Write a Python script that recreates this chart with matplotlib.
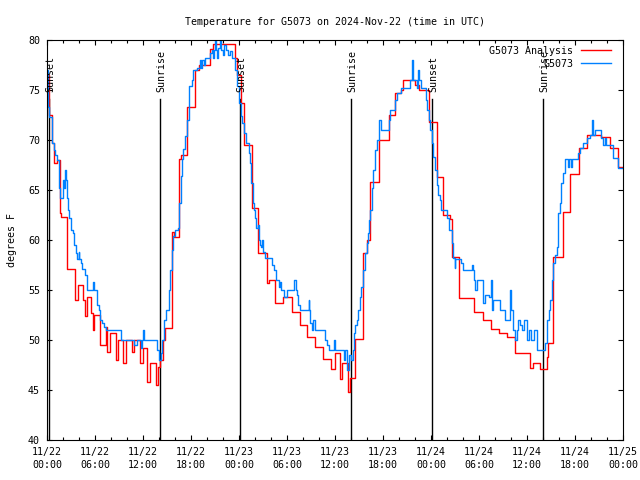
import matplotlib
matplotlib.use("Agg")
import matplotlib.pyplot as plt
from matplotlib.lines import Line2D

"""
Temperature for G5073, 3 days from 2024-11-22 00:00 UTC.
x values are hours since 11/22 00:00, drawn as gnuplot-style steps.
"""

# analysis (red)
hrs_anl = [0, 0.3, 0.67, 0.9, 1.2, 1.6, 1.8, 2.46, 3.54, 3.875, 4.54, 4.7, 4.96,
           5.54, 5.7, 5.9, 6.58, 7.33, 7.54, 7.83, 8.58, 8.875, 9.54, 9.83, 10.67,
           10.9, 11.625, 12.0, 12.54, 12.875, 13.625, 13.875, 14.1, 14.5, 14.8,
           15.58, 15.9, 16.5, 16.8, 17.5, 18.5, 19.0, 20.4, 20.8, 23.5, 23.7, 24.3,
           24.6, 25.65, 26.4, 27.5, 27.7, 28.5, 29.5, 30.6, 31.6, 32.5, 33.5, 34.5,
           35.5, 36.0, 36.6, 36.9, 37.6, 37.9, 38.5, 39.45, 40.0, 40.4, 41.5, 42.7,
           43.5, 44.3, 44.5, 46.0, 46.5, 47.8, 48.7, 49.5, 50.4, 50.6, 51.5, 53.4,
           54.5, 55.5, 56.5, 57.5, 58.5, 60.4, 60.8, 61.6, 62.5, 62.6, 63.3, 64.45,
           65.4, 66.5, 67.5, 69.3, 70.4, 71.4, 72.0]
temp_anl = [76.5, 72.5, 69.7, 67.7, 68.0, 62.7, 62.3, 57.1, 54.0, 55.5, 54.0, 52.4, 54.3,
            52.7, 51.0, 52.5, 49.5, 51.3, 48.8, 50.7, 48.0, 50.0, 47.7, 50.0, 48.8,
            50.0, 47.7, 49.2, 45.8, 47.7, 45.5, 47.3, 48.0, 50.0, 51.2,
            60.8, 60.3, 68.1, 68.5, 73.3, 77.0, 77.5, 79.1, 79.6, 78.2, 76.5, 73.7,
            69.5, 63.2, 58.7, 55.7, 56.0, 53.7, 54.3, 52.8, 51.5, 50.3, 49.3, 48.1,
            47.1, 48.7, 46.1, 47.7, 44.8, 46.2, 50.1, 58.7, 60.0, 65.8, 70.0, 72.5,
            74.7, 75.0, 76.0, 75.5, 75.0, 71.8, 66.3, 62.5, 62.1, 58.3, 54.2, 52.8,
            52.0, 51.1, 50.7, 50.3, 48.7, 47.2, 47.7, 47.1, 48.3, 49.7, 58.3, 62.8,
            66.6, 69.2, 70.5, 70.3, 69.2, 67.3, 67.3]

# observed (blue)
hrs_obs = [0, 0.1, 0.3, 0.6, 0.875, 1.0, 1.2, 1.5, 1.6, 2.05, 2.15, 2.3, 2.35, 2.46,
           2.6, 2.75, 2.95, 3.2, 3.375, 3.6, 3.8, 3.95, 4.05, 4.2, 4.4, 4.8, 5.04,
           5.8, 5.9, 6.3, 6.5, 6.6, 6.9, 7.1, 7.33, 9.3, 10.9, 11.3, 11.7, 11.9,
           12.04, 12.1, 13.7, 14.0, 14.2, 14.4, 14.6, 14.9, 15.2, 15.4, 15.6, 15.8,
           16.0, 16.4, 16.5, 16.7, 16.9, 17.0, 17.2, 17.5, 17.7, 17.8, 18.1, 18.3,
           18.7, 19.1, 19.3, 19.4, 19.6, 19.8, 20.4, 20.6, 20.8, 20.9, 21.0, 21.1,
           21.3, 21.4, 21.6, 21.7, 22.0, 22.1, 22.4, 22.6, 22.9, 23.1, 23.5, 23.8,
           24.05, 24.2, 24.4, 24.6, 24.9, 25.2, 25.35, 25.5, 25.7, 25.85, 26.0,
           26.1, 26.4, 26.5, 26.6, 26.8, 26.9, 27.0, 27.25, 28.1, 28.4, 28.6, 29.0,
           29.1, 29.3, 29.6, 30.0, 30.9, 31.1, 31.2, 31.4, 31.6, 32.7, 32.8, 32.9,
           33.1, 33.3, 33.5, 34.75, 35.0, 35.2, 35.9, 36.0, 37.1, 37.3, 37.5, 37.7,
           38.0, 38.2, 38.4, 38.5, 38.7, 38.9, 39.1, 39.3, 39.5, 39.75, 40.0, 40.1,
           40.2, 40.4, 40.6, 40.8, 41.0, 41.2, 41.5, 41.7, 41.8, 42.7, 42.9, 43.5,
           43.7, 44.3, 45.4, 45.6, 45.7, 46.2, 46.4, 46.5, 46.8, 47.4, 47.5, 47.7,
           47.9, 48.1, 48.3, 48.5, 48.7, 48.9, 49.1, 49.2, 50.0, 50.2, 50.6, 50.8,
           50.95, 51.05, 51.8, 52.0, 53.1, 53.2, 53.4, 53.5, 53.7, 54.5, 54.75,
           55.3, 55.5, 55.6, 55.8, 56.6, 57.3, 57.9, 58.0, 58.3, 58.5, 58.7, 58.9,
           59.1, 59.4, 59.6, 59.96, 60.3, 60.5, 60.9, 61.2, 62.3, 62.5, 62.7, 62.9,
           63.1, 63.3, 63.5, 63.7, 63.9, 64.1, 64.3, 64.5, 64.75, 65.1, 65.2, 65.5,
           65.6, 66.4, 66.6, 67.0, 67.5, 67.9, 68.1, 68.2, 68.5, 69.1, 69.3, 69.5,
           69.7, 69.9, 70.7, 71.4, 72.0]
temp_obs = [77.0, 73.3, 72.3, 69.7, 69.0, 68.5, 68.0, 65.2, 64.2, 66.0, 65.2, 67.0, 66.0, 64.2,
            63.0, 62.2, 61.0, 60.7, 59.5, 58.7, 58.1, 58.8, 58.1, 57.7, 57.1, 56.5, 55.0,
            55.8, 55.0, 53.5, 53.0, 52.0, 51.7, 51.3, 51.0, 50.0, 49.5, 50.0, 49.2, 50.0,
            51.0, 50.0, 49.0, 48.0, 48.7, 50.0, 52.0, 53.0, 55.0, 57.0, 59.0, 60.4,
            61.0, 61.2, 63.7, 66.4, 68.1, 69.1, 70.4, 72.0, 73.7, 75.4, 76.0, 77.0,
            77.2, 78.0, 77.2, 78.0, 77.5, 78.2, 78.7, 79.0, 78.2, 79.0, 80.0, 79.0,
            78.2, 79.2, 80.0, 79.0, 78.5, 79.5, 79.0, 78.5, 78.9, 78.2, 77.0, 75.4,
            73.7, 72.4, 71.7, 70.7, 69.7, 68.7, 67.7, 65.7, 63.7, 63.0, 62.2,
            61.2, 61.5, 60.0, 59.5, 59.3, 60.0, 58.8, 58.2, 57.5, 57.0, 56.0, 55.3,
            55.8, 55.0, 54.3, 55.0, 56.0, 55.0, 54.5, 53.5, 53.0, 54.0, 53.0, 51.7,
            51.0, 52.0, 51.0, 50.0, 49.5, 49.0, 50.0, 49.0, 48.0, 49.0, 47.0, 48.5,
            48.0, 49.0, 50.7, 51.5, 52.0, 53.0, 54.3, 55.3, 57.0, 58.7, 59.7, 60.7,
            62.0, 63.0, 65.2, 67.0, 69.0, 70.0, 72.0, 71.5, 71.0, 72.0, 73.0, 74.0,
            74.7, 75.2, 76.0, 78.0, 76.0, 75.2, 77.0, 76.0, 75.2, 74.0, 73.0, 72.0,
            71.0, 69.7, 68.3, 67.0, 65.5, 64.5, 64.0, 63.0, 62.2, 61.0, 59.7, 58.2,
            57.2, 58.1, 57.7, 57.0, 57.5, 57.0, 56.0, 55.0, 56.0, 53.7, 54.5,
            54.3, 56.0, 53.0, 54.0, 53.0, 52.0, 55.0, 53.0, 51.0, 50.0, 51.0, 52.0,
            51.5, 51.0, 52.0, 50.0, 51.0, 50.0, 51.0, 49.0, 49.7, 52.0, 53.0, 54.0,
            56.0, 57.7, 58.5, 59.3, 62.7, 63.7, 65.7, 66.7, 68.1, 67.3, 68.1, 67.3,
            68.1, 68.7, 69.2, 69.7, 70.2, 70.5, 72.0, 70.5, 71.0, 71.0, 70.2, 69.5,
            70.2, 69.5, 68.2, 67.2, 67.2]

# sun events (hours)
sun_hrs = [0.25, 14.15, 24.17, 38.04, 48.17, 62.04]
sun_names = ["Sunset", "Sunrise", "Sunset", "Sunrise", "Sunset", "Sunrise"]

tick_hrs = list(range(0, 73, 6))
tick_names = ["11/22\n00:00", "11/22\n06:00", "11/22\n12:00", "11/22\n18:00",
              "11/23\n00:00", "11/23\n06:00", "11/23\n12:00", "11/23\n18:00",
              "11/24\n00:00", "11/24\n06:00", "11/24\n12:00", "11/24\n18:00",
              "11/25\n00:00"]

plt.rcParams["font.family"] = "DejaVu Sans Mono"
plt.rcParams["font.size"] = 7.2

fig = plt.figure(figsize=(6.4, 4.8), dpi=100)
ax = fig.add_axes([47/640, 40/480, 576/640, 400/480])

for h, name in zip(sun_hrs, sun_names):
    ax.plot([h, h], [40, 74.1], color="black", lw=1.0)
    ax.text(h + 0.15, 74.8, name, rotation=90, ha="center", va="bottom", fontsize=7.2)

ax.step(hrs_anl, temp_anl, where="post", color="#ff0000", lw=1.0)
ax.step(hrs_obs, temp_obs, where="post", color="#0080ff", lw=1.0)

ax.set_xlim(0, 72)
ax.set_ylim(40, 80)
ax.set_xticks(tick_hrs)
ax.set_xticklabels(tick_names, linespacing=1.35)
ax.set_xticks(range(0, 73, 2), minor=True)
ax.set_yticks(range(40, 81, 5))
ax.tick_params(which="both", direction="in", top=True, right=True, width=0.8)
ax.tick_params(which="major", length=3.5, pad=5)
ax.tick_params(which="minor", length=2)
for s in ax.spines.values():
    s.set_linewidth(0.8)

ax.set_ylabel("degrees F", labelpad=8)
ax.set_title("Temperature for G5073 on 2024-Nov-22 (time in UTC)", fontsize=7.2, pad=11)

handles = [Line2D([], [], color="#ff0000", lw=1.0), Line2D([], [], color="#0080ff", lw=1.0)]
ax.legend(handles, ["G5073 Analysis", "G5073"], loc="upper right", frameon=False,
          markerfirst=False, handlelength=3.0, handletextpad=0.8, labelspacing=0.3,
          borderaxespad=0.2, bbox_to_anchor=(0.99, 1.0))

plt.savefig("out.png", dpi=100)
